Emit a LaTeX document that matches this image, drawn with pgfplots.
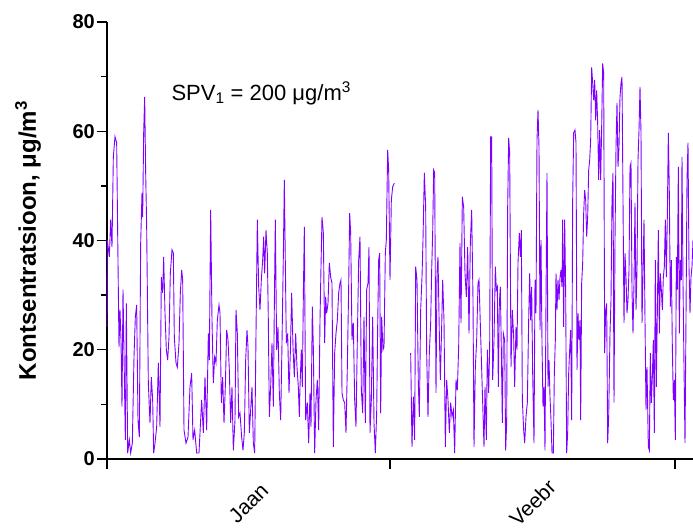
\documentclass[border=0pt]{standalone}
\usepackage{fontspec}
\setmainfont{Liberation Sans}
\usepackage{pgfplots}
\pgfplotsset{compat=1.18}
\definecolor{linev}{RGB}{128,0,255}
\begin{document}
\begin{tikzpicture}
\begin{axis}[
  name=ax, at={(0,0)}, anchor=south west,
  scale only axis, width=586pt, height=437pt,
  xmin=0, xmax=586, ymin=0, ymax=80,
  axis x line=bottom, axis y line=left,
  axis line style={-, line width=1.5pt, black},
  tick align=outside, major tick length=10pt, minor tick length=6pt,
  every tick/.style={black, line width=1.3pt},
  ytick={0,20,40,60,80}, minor ytick={10,30,50,70},
  xtick={0,283,568}, xticklabels={Jaan,Veebr}, x tick label as interval,
  /pgf/number format/assume math mode=true,
  yticklabel style={font=\fontsize{20}{22}\selectfont\bfseries, inner sep=2pt},
  xticklabel style={font=\fontsize{21}{23}\selectfont, rotate=45, anchor=center},
  xticklabel shift=34pt,
  ylabel={\fontsize{24}{26}\selectfont\bfseries Kontsentratsioon, μg/m\textsuperscript{3}},
  ylabel style={at={(axis description cs:-0.1212,0.5)}, anchor=base, rotate=0},
  clip=false,
]
\addplot[linev, line width=0.9pt] table {
x y
0 24.2
0.33 40.1
2.33 37
3.67 43.8
5 38.8
6.33 55.3
8 59
9.67 57.9
10.67 41.4
12 20.5
13 27.3
14 21.8
15 9.6
16 31
17 19.4
18.33 3.5
19.33 28.5
20.67 1.1
22.33 3.5
23.67 1.1
25.33 2.9
27 18.7
28.33 26
29.67 28.2
31 7.1
32.33 4
33.67 39.5
35 48.7
35.67 44.3
36.67 59.7
37.67 66.3
38.67 52.4
39.67 42.5
41.33 13.9
43 6.6
44.33 15
45.67 10.8
46.67 1.1
48 2.9
49.67 5.9
51.33 17.6
53 5.9
54.33 33.3
55.67 30.4
56.67 37
58 26.7
59.33 20
60.67 18.1
62 22.3
63.33 34
65 38.3
66.33 37.7
67.33 22.3
69 17.6
70.33 16.8
72 21.2
73.33 30.4
74.67 34.6
75.67 32.8
77 5.3
79 2.9
81 4
83 13.2
84.67 15.7
86 3.5
87.67 5.3
89.67 1.1
92 1.1
93 4.8
94.67 10.8
96.33 4.8
98 15
99.67 5.3
101.33 23
102.33 18.1
103.67 45.6
105 25.4
106.33 13.9
107.67 18.7
109 17.6
110.33 25.4
112 28.2
113 26.7
114.33 10.3
115.67 15
117 6.6
118.33 13.2
119.67 23.6
121 21.8
122.33 16.3
123.67 6.6
125 13.2
126.33 1.6
128 7.1
129 27.3
130.33 23
131.67 7.7
133 8.4
134.67 4
136 1.6
137.33 4.8
138.67 18.1
140 23.6
141 20.5
142.33 4.8
143.67 9
145 13.2
146.33 2.9
147.67 1.1
149 23
150.33 43.8
151.67 31.5
153 27.3
154.33 32.8
155.67 36.4
156.67 40.7
157.67 34
159 41.9
160.33 37.7
161.33 25.4
162.33 7.7
163.67 13.2
165 21.2
166.33 9.6
167.33 27.9
168.33 43.8
169.67 20
171 24.2
172.33 12.1
173.67 7.1
175 21.2
176.33 37
177.33 51.1
178.33 35.9
179.33 21.2
180.67 23
182 12.1
183.33 19.4
184.67 30.4
186 20.5
187.33 15
188.67 23
190 16.8
191.33 13.2
192.33 7.7
193 13.2
194.33 20
195.33 13.2
196.33 29.7
197.33 42.5
198.67 7.1
200.33 10.3
201.67 2.9
203 12.1
204 5.9
205.33 27.9
206.33 20.5
207.67 1.1
209 10.8
210.33 14.5
211.67 5.3
213 25.4
214 35.2
215 44.3
216.33 41.4
217.67 21.2
218.67 29.7
219.67 26.7
221 28.5
222.33 35.9
223.67 33.3
225 32.2
226.33 2.2
227.67 19.4
229 23
230.33 25.4
231.67 30.4
233 32.2
234 32.8
235 12.1
236.33 10.8
237.67 10.3
239 4.8
240.33 16.8
241.67 31.5
242.67 45
243.67 41.4
245 21.8
246.33 24.9
247.67 10.8
249 5.9
250.33 21.8
251.67 36.4
253 40.7
254.33 12.6
255.67 8.4
257 26
258.33 6.6
259.67 31
261 32.2
262 38.8
263 4.8
264.33 10.8
265.67 26
267 6.6
268.33 1.1
269.67 8.4
270.67 24.2
271.67 36.4
272.67 37.7
273.67 8.4
274.67 26
276 20
277 20.5
278.33 37.7
279.33 40.1
280.67 56.6
281.67 52.9
283 32.8
284.33 47.4
285.67 49.8
287.33 50.5
};
\addplot[linev, line width=0.9pt] table {
x y
303.67 19.4
305 2.2
306.33 11.4
307.67 3.5
308.67 35.2
310 32.8
311.33 13.9
312.33 7.7
313.67 27.3
315 33.3
316 40.1
317.33 52.4
318.67 46.1
319.67 19.4
321 7.7
322.33 19.4
323.67 24.9
324.67 34.6
325.67 41.4
326.67 52.9
327.67 52.4
329 12.1
330 34
331 37
332.33 23
333.33 14.5
334.67 24.2
335.67 32.8
337 25.4
338.33 2.2
339.67 14.5
341 10.8
342.33 4.8
343.67 10.3
345 7.7
346.33 9
347.67 1.1
349 14.5
350.33 12.6
351.67 20.5
353 39.5
354 24.9
355.33 48
356.67 46.1
358 34
359.33 29.7
360.67 38.8
362 23
363.33 39.5
364.67 45.6
366 29.1
367 2.2
368.33 16.8
369.67 21.8
371 32.2
372 32.8
377 2.2
378 13.2
379.33 3.5
380.33 20
381.67 12.1
382.67 20.5
383.67 59
384.67 59
385.67 14.5
387 21.8
388.33 35.2
389.33 31
390.33 31.5
391.33 13.2
392.33 28.5
393.33 31.5
394.33 20
395.33 6.6
396.33 23
397.67 21.8
398.67 1.6
399.67 6.6
400.67 46.1
401.67 58.8
402.67 56
404 16.8
405.33 27.3
406.67 22.3
407.67 13.2
409 24.2
410 20
411 35.9
412.33 41.4
413.33 37
414.33 41.9
415.33 10.8
416.67 5.3
417.67 2.9
419 7.7
420.33 10.3
421.67 25.4
422.67 34
423.67 25.4
424.67 31.5
425.67 15.7
427 2.9
428 32.8
429 26.7
430 58.4
431 63.9
432 57.1
433 23.6
434 40.1
435 21.2
436 9.6
437 13.2
438 1.6
439 29.1
440 52.4
441 13.2
442 18.1
443 11.4
444 7.1
445 1.1
446.33 1.1
447.33 15.7
448.33 21.8
449 34
450 27.3
451 32.8
452 29.1
453 33.3
454 34.6
455 31.5
455.67 43.8
456.67 24.2
457.67 43.8
458.67 30.4
459.67 1.1
460.67 4.8
461.67 15.7
462.67 20
463.67 23.6
464.67 7.1
465.67 47.4
466.67 59.7
468 60.2
469 57.9
470 16.3
471 26.7
472 21.8
473 25.4
473.67 7.1
474.67 32.2
475.67 35.9
476.67 45
477.67 49.2
478.67 47.4
479.67 40.7
480.67 44.3
481.67 52.9
482.67 54.7
483.67 58.4
484.67 71.7
485.67 68.8
486.67 65.7
487.67 69.4
488.67 62
489.67 67.5
490.67 61.4
491.67 51.1
492.67 60.2
493.67 51.1
494.67 60.8
495.67 72.4
496.67 70.6
497.67 19.4
498.67 27.3
499.67 28.5
500.67 2.9
501.67 7.7
503 23
504 29.1
505 47.4
506 52.4
507 10.3
508 40.1
509 57.1
510 65.2
511 53.5
512 57.1
513 66.3
514 68.8
515 69.9
516 47.4
517 24.9
518 37.7
519 33.3
520 26.7
521 29.1
522 34.6
523 53.5
524 54.2
525 31
526 23
527 32.2
528 46.9
529 27.3
530 34.6
531 54.7
532 60.2
533 68.1
534 59.7
535 24.9
536 34
537 43.8
538 25.4
539 9
540 16.8
541.33 2.2
542.33 1.6
543.33 19.4
544.33 10.3
545.33 15
546.33 21.8
547.33 4.8
548.33 36.4
549.33 13.2
550.33 26.7
551.33 41.9
552.33 23
553.33 34
554.33 31
555.33 27.3
556.33 33.3
557.33 35.2
558.33 43.8
559.33 33.3
560.33 44.3
561.33 59.7
562.33 48.7
563.33 27.9
564.33 36.4
565.33 20.5
566.33 10.8
567.33 14.5
568.33 3.5
569.33 37
570.33 31
571.33 53.5
572.33 23
573.33 36.4
574.33 32.8
575 55.3
576 32.2
577 16.8
578 2.9
579 26
580 51.1
581 57.9
582 35.2
583 26.7
584 33.3
585 35.2
586 40.1
};
\node[anchor=base west, font=\fontsize{22}{24}\selectfont] at (axis cs:61,65.7) {SPV\textsubscript{1} = 200 μg/m\textsuperscript{3}};
\end{axis}
\pgfresetboundingbox
\useasboundingbox (-107pt,-72pt) rectangle (586pt,459pt);
\end{tikzpicture}
\end{document}
